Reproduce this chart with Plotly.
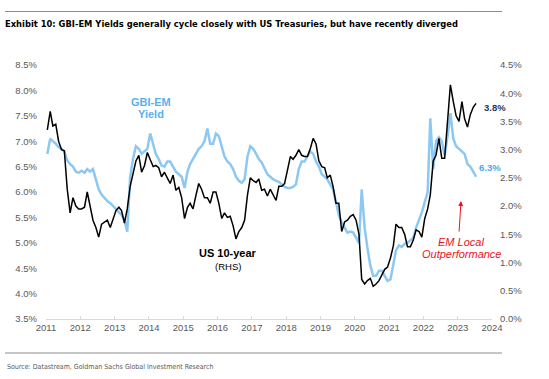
import pandas as pd
import plotly.graph_objects as go

# ---- data (monthly) ----
months = pd.date_range("2011-01-01", "2023-07-01", freq="MS") + pd.Timedelta(days=14)

us10y = [
    3.35, 3.68, 3.42, 3.45, 3.15, 3.00, 2.98, 2.30, 1.88, 2.15, 2.00, 1.95,
    1.95, 1.98, 2.25, 2.00, 1.75, 1.62, 1.45, 1.68, 1.72, 1.75, 1.62, 1.75,
    1.92, 1.98, 1.92, 1.70, 1.95, 2.35, 2.58, 2.80, 2.90, 2.60, 2.72, 2.95,
    2.82, 2.70, 2.72, 2.68, 2.52, 2.60, 2.50, 2.40, 2.55, 2.28, 2.33, 2.15,
    1.78, 1.98, 2.05, 1.95, 2.18, 2.40, 2.30, 2.15, 2.15, 2.05, 2.25, 2.25,
    2.05, 1.78, 1.88, 1.80, 1.82, 1.65, 1.42, 1.55, 1.62, 1.75, 2.20, 2.50,
    2.45, 2.42, 2.48, 2.28, 2.30, 2.18, 2.30, 2.20, 2.10, 2.35, 2.35, 2.40,
    2.62, 2.88, 2.83, 2.90, 3.00, 2.90, 2.88, 2.88, 3.02, 3.20, 3.10, 2.80,
    2.70, 2.68, 2.50, 2.55, 2.35, 2.05, 2.05, 1.55, 1.72, 1.75, 1.82, 1.85,
    1.75, 1.50, 0.70, 0.62, 0.68, 0.72, 0.58, 0.62, 0.68, 0.78, 0.88, 0.92,
    1.08, 1.30, 1.68, 1.62, 1.62, 1.50, 1.28, 1.28, 1.40, 1.58, 1.55, 1.45,
    1.78, 1.95, 2.20, 2.80, 2.90, 3.20, 2.85, 2.85, 3.50, 4.15, 3.85, 3.60,
    3.50, 3.85, 3.55, 3.40, 3.62, 3.75, 3.82,
]

gbi_em = [
    6.75, 7.05, 7.00, 6.95, 6.88, 6.85, 6.80, 6.62, 6.55, 6.50, 6.40, 6.38,
    6.42, 6.38, 6.45, 6.40, 6.45, 6.25, 6.05, 5.95, 5.88, 5.82, 5.78, 5.72,
    5.65, 5.60, 5.55, 5.45, 5.22, 6.30, 6.65, 6.90, 6.85, 6.75, 6.80, 6.85,
    7.15, 6.95, 6.75, 6.65, 6.52, 6.50, 6.60, 6.60, 6.50, 6.40, 6.35, 6.30,
    6.08, 6.40, 6.55, 6.65, 6.75, 6.85, 6.90, 7.00, 7.25, 6.95, 6.95, 7.15,
    7.10, 6.90, 6.70, 6.60, 6.55, 6.45, 6.30, 6.22, 6.18, 6.25, 6.70, 6.90,
    6.85, 6.75, 6.65, 6.58, 6.45, 6.35, 6.30, 6.25, 6.22, 6.20, 6.15, 6.10,
    6.08, 6.08, 6.10, 6.15, 6.45, 6.60, 6.60, 6.70, 6.80, 6.75, 6.60, 6.50,
    6.35, 6.30, 6.25, 6.15, 6.05, 5.80, 5.55, 5.40, 5.30, 5.20, 5.22, 5.20,
    5.10, 5.00, 6.05, 5.30, 4.90, 4.55, 4.35, 4.35, 4.45, 4.45, 4.35, 4.25,
    4.28, 4.55, 4.85, 4.95, 4.92, 4.98, 5.00, 5.05, 5.10, 5.30, 5.45, 5.60,
    5.80, 6.00, 7.45, 6.45, 7.00, 7.08, 7.00, 6.72, 7.10, 7.55, 7.05, 6.90,
    6.85, 6.80, 6.75, 6.55, 6.50, 6.40, 6.30,
]

year_ticks = [f"{y}-01-01" for y in range(2011, 2025)]
year_labels = [str(y) for y in range(2011, 2025)]
left_ticks = [3.5 + 0.5 * i for i in range(11)]
left_labels = [f"{v:.1f}%" for v in left_ticks]
right_ticks = [0.5 * i for i in range(10)]
right_labels = [f"{v:.1f}%" for v in right_ticks]

W, H = 549, 379
L, R, T, B = 46, 57, 65, 60
PW, PH = W - L - R, H - T - B


def px(x):
    return (x - L) / PW


def py(y):
    return (H - B - y) / PH


TICK_FONT = dict(family="Liberation Sans, Arial, sans-serif", size=9.5, color="#595959")
NARROW = "Liberation Sans Narrow, Arial Narrow, DejaVu Sans Condensed, sans-serif"
ARIAL = "Liberation Sans, Arial, sans-serif"

fig = go.Figure()
fig.add_trace(go.Scatter(x=months, y=gbi_em, mode="lines", name="GBI-EM Yield",
                         line=dict(color="#8DC8F2", width=2.5), yaxis="y"))
fig.add_trace(go.Scatter(x=months, y=us10y, mode="lines", name="US 10-year (RHS)",
                         line=dict(color="#000000", width=1.5), yaxis="y2"))

fig.update_layout(
    width=W, height=H,
    margin=dict(l=L, r=R, t=T, b=B),
    paper_bgcolor="white", plot_bgcolor="white",
    showlegend=False,
    title=dict(
        text="<b>Exhibit 10: GBI-EM Yields generally cycle closely with US Treasuries, but have recently diverged</b>",
        font=dict(family=NARROW, size=9.3, color="#000000"),
        xref="container", yref="container", x=5 / W, xanchor="left",
        y=1 - 24 / H, yanchor="middle",
    ),
    xaxis=dict(
        type="date", range=["2011-01-01", "2024-01-01"],
        tickvals=year_ticks, ticktext=year_labels,
        showgrid=False, zeroline=False,
        showline=True, linecolor="#D9D9D9", linewidth=1,
        ticks="inside", ticklen=3, tickcolor="#D9D9D9",
        tickfont=TICK_FONT,
    ),
    yaxis=dict(
        range=[3.5, 8.5], tickvals=left_ticks, ticktext=left_labels,
        showgrid=False, zeroline=False, showline=False, ticks="",
        tickfont=TICK_FONT, ticklabelstandoff=8,
    ),
    yaxis2=dict(
        range=[0, 4.5], tickvals=right_ticks, ticktext=right_labels,
        overlaying="y", side="right",
        showgrid=False, zeroline=False, showline=False, ticks="",
        tickfont=TICK_FONT, ticklabelstandoff=7,
    ),
)

annotations = [
    dict(x=px(151), y=py(102), text="<b>GBI-EM</b>", showarrow=False,
         font=dict(family=ARIAL, size=11, color="#5AB0EE")),
    dict(x=px(151), y=py(113.5), text="<b>Yield</b>", showarrow=False,
         font=dict(family=ARIAL, size=11, color="#5AB0EE")),
    dict(x=px(228), y=py(253), text="<b>US 10-year</b>", showarrow=False,
         font=dict(family=ARIAL, size=11, color="#000000")),
    dict(x=px(228), y=py(266), text="(RHS)", showarrow=False,
         font=dict(family=ARIAL, size=9.5, color="#000000")),
    dict(x=px(495), y=py(107), text="<b>3.8%</b>", showarrow=False,
         font=dict(family=ARIAL, size=9.5, color="#1F3864")),
    dict(x=px(490), y=py(167), text="<b>6.3%</b>", showarrow=False,
         font=dict(family=ARIAL, size=9.5, color="#4AA8EE")),
    dict(x=px(461), y=py(242), text="<i>EM Local</i>", showarrow=False,
         font=dict(family=ARIAL, size=11, color="#E8141E")),
    dict(x=px(461), y=py(254), text="<i>Outperformance</i>", showarrow=False,
         font=dict(family=ARIAL, size=11, color="#E8141E")),
    dict(x=px(461), y=py(201), ax=-2, ay=32, axref="pixel", ayref="pixel",
         text="", showarrow=True, standoff=0,
         arrowhead=2, arrowsize=1, arrowwidth=1, arrowcolor="#E8141E"),
]
for a in annotations:
    a["xref"] = "paper"
    a["yref"] = "paper"
    a["xanchor"] = "center"
    a["yanchor"] = "middle"
annotations.append(
    dict(x=px(5), y=py(367), xref="paper", yref="paper",
         text="Source: Datastream, Goldman Sachs Global Investment Research",
         showarrow=False, xanchor="left", yanchor="middle",
         font=dict(family=NARROW, size=7.0, color="#595959")))
fig.update_layout(annotations=annotations)

fig.update_layout(shapes=[
    dict(type="line", xref="paper", yref="paper", x0=px(5), x1=px(502), y0=py(11.5), y1=py(11.5),
         line=dict(color="#8C8C8C", width=1)),
    dict(type="line", xref="paper", yref="paper", x0=px(5), x1=px(502), y0=py(353), y1=py(353),
         line=dict(color="#8C8C8C", width=1)),
])

fig.write_html("out.html", config={"displayModeBar": False},
               post_script="document.body.style.margin='0';")
